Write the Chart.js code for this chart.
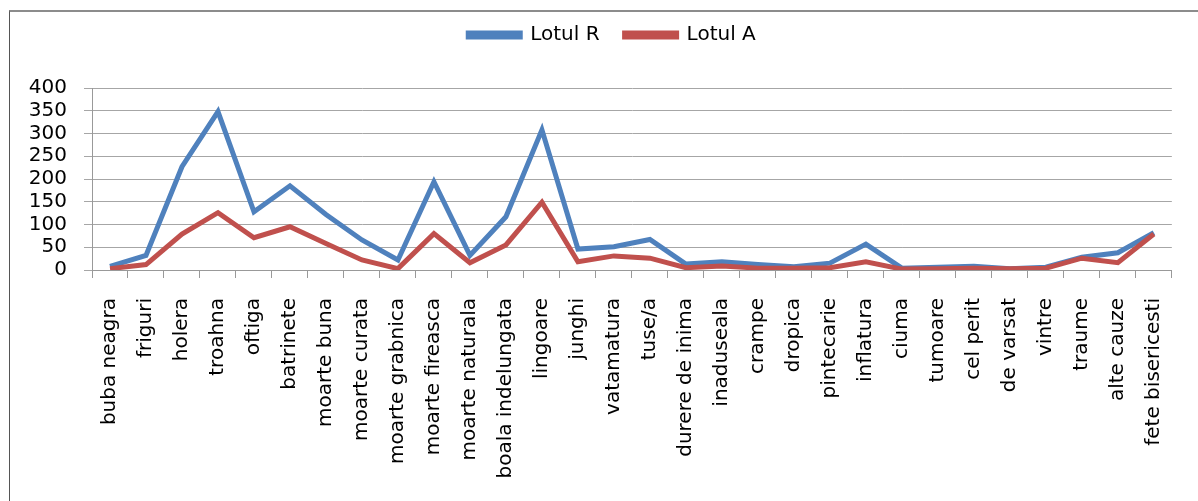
<!DOCTYPE html>
<html>
<head>
<meta charset="utf-8">
<script src="https://cdn.jsdelivr.net/npm/chart.js@4"></script>
<style>
  html, body { margin: 0; padding: 0; background: #fff; }
  #wrap { position: relative; width: 1198px; height: 501px; overflow: hidden; }
  #frame { position: absolute; left: 9px; top: 10px; width: 1300px; height: 600px;
           border-left: 1px solid #555; border-top: 2px solid #8c8c8c; pointer-events: none; }
  canvas { position: absolute; left: 0; top: 0; }
</style>
</head>
<body>
<div id="wrap">
  <canvas id="lineChart" width="1198" height="501"></canvas>
  <div id="frame"></div>
</div>
<script>
// cauze de deces
const categorii = ['buba neagra', 'friguri', 'holera', 'troahna', 'oftiga', 'batrinete',
    'moarte buna', 'moarte curata', 'moarte grabnica', 'moarte fireasca', 'moarte naturala',
    'boala indelungata', 'lingoare', 'junghi', 'vatamatura', 'tuse/a', 'durere de inima',
    'inaduseala', 'crampe', 'dropica', 'pintecarie', 'inflatura', 'ciuma', 'tumoare',
    'cel perit', 'de varsat', 'vintre', 'traume', 'alte cauze', 'fete bisericesti'];

const lotulR = [8, 32, 227, 348, 128, 185, 122, 66, 22, 194, 32, 117, 308, 46, 51, 67, 13,
    18, 12, 7, 15, 57, 4, 6, 8, 3, 6, 28, 38, 82];
const lotulA = [3, 12, 79, 126, 71, 95, 58, 22, 3, 80, 16, 55, 149, 18, 31, 26, 5,
    9, 4, 4, 5, 18, 2, 3, 4, 3, 4, 26, 16, 79];

const yTicks = [0, 50, 100, 150, 200, 250, 300, 350, 400];

const font = { family: 'DejaVu Sans', size: 20 };

// muta legenda putin spre dreapta, ca in original
const legendShift = {
    id: 'legendShift',
    afterLayout(chart) {
        chart.legend.left += 18;
        chart.legend.right += 18;
    }
};

const lineChart = new Chart(document.getElementById('lineChart'), {
    type: 'line',
    data: {
        labels: categorii,
        datasets: [{
            label: 'Lotul R',
            data: lotulR,
            borderColor: '#4F81BD',
            backgroundColor: '#4F81BD',
            borderWidth: 5,
            pointRadius: 0,
            tension: 0,
            order: 1
        }, {
            label: 'Lotul A',
            data: lotulA,
            borderColor: '#C0504D',
            backgroundColor: '#C0504D',
            borderWidth: 5,
            pointRadius: 0,
            tension: 0,
            order: 0
        }]
    },
    options: {
        responsive: false,
        animation: false,
        layout: { padding: { top: 0, left: 0, right: 10, bottom: 0 } },
        plugins: {
            legend: {
                position: 'top',
                labels: {
                    font: font,
                    color: '#000',
                    boxWidth: 52,
                    boxHeight: 4,
                    padding: 25,
                    sort: (a, b) => a.datasetIndex - b.datasetIndex
                }
            },
            // spatiu gol intre legenda si grafic
            title: {
                display: true,
                text: ' ',
                weight: 500,
                padding: { top: 21, bottom: 0 },
                font: { size: 12, lineHeight: 1 }
            },
            tooltip: { enabled: false }
        },
        scales: {
            x: {
                offset: true,
                grid: {
                    offset: true,
                    drawOnChartArea: false,
                    color: '#999',
                    tickLength: 8
                },
                border: { color: '#999' },
                ticks: {
                    font: font,
                    color: '#000',
                    autoSkip: false,
                    maxRotation: 90,
                    minRotation: 90,
                    padding: 20
                },
                afterFit: s => { s.height = 231; }
            },
            y: {
                min: 0,
                max: 400,
                afterBuildTicks: s => { s.ticks = yTicks.map(v => ({ value: v })); },
                grid: { color: '#a6a6a6', tickLength: 8 },
                border: { color: '#999' },
                ticks: { font: font, color: '#000', padding: 17, autoSkip: false },
                afterFit: s => { s.width = 92; }
            }
        }
    },
    plugins: [legendShift]
});
</script>
</body>
</html>
